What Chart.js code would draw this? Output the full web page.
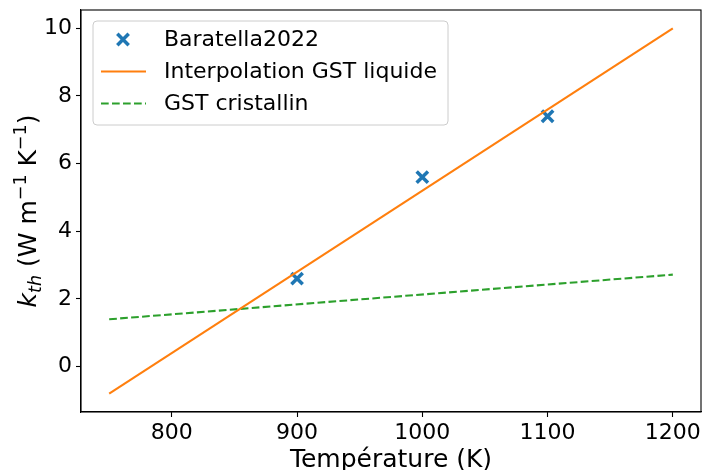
<!DOCTYPE html>
<html><head><meta charset="utf-8">
<script src="https://cdn.jsdelivr.net/npm/chart.js@4"></script>
<style>html,body{margin:0;padding:0;background:#fff}#wrap{width:702px;height:470px}</style>
</head><body><div id="wrap"><canvas id="c" width="702" height="470"></canvas></div>
<script>
const measuredT = [900, 1000, 1100];
const measuredK = [2.6, 5.6, 7.4];
const liquidT = [750, 1200];
const liquidK = [-0.8, 10.0];
const crystalT = [750, 1200];
const crystalK = [1.4, 2.72];
const xTicks = [800, 900, 1000, 1100, 1200];
const yTicks = [0, 2, 4, 6, 8, 10];
const seriesLabels = ['Baratella2022', 'Interpolation GST liquide', 'GST cristallin'];
const xTitle = 'Température (K)';

const FONT = 'DejaVu Sans';
const colors = ['#1f77b4', '#ff7f0e', '#2ca02c'];
const dash = [7.7, 3.3];

const toXY = (xs, ys) => xs.map((x, i) => ({x: x, y: ys[i]}));

const framePlugin = {
  id: 'frame',
  afterDraw(chart) {
    const ctx = chart.ctx, a = chart.chartArea;
    ctx.save();
    ctx.strokeStyle = '#000'; ctx.lineWidth = 1.1;
    ctx.strokeRect(a.left, a.top, a.right - a.left, a.bottom - a.top);

    const bx = 93, by = 21, bw = 355, bh = 104, r = 4;
    ctx.beginPath();
    ctx.moveTo(bx + r, by);
    ctx.arcTo(bx + bw, by, bx + bw, by + bh, r);
    ctx.arcTo(bx + bw, by + bh, bx, by + bh, r);
    ctx.arcTo(bx, by + bh, bx, by, r);
    ctx.arcTo(bx, by, bx + bw, by, r);
    ctx.closePath();
    ctx.fillStyle = 'rgba(255,255,255,0.8)'; ctx.fill();
    ctx.strokeStyle = '#cccccc'; ctx.lineWidth = 1; ctx.stroke();
    const rows = [39.5, 71.5, 103.5];
    ctx.font = '22px "' + FONT + '"';
    ctx.textBaseline = 'middle'; ctx.textAlign = 'left'; ctx.fillStyle = '#000';
    seriesLabels.forEach((lab, i) => {
      const y = rows[i];
      if (i === 0) {
        ctx.strokeStyle = colors[0]; ctx.lineWidth = 3.5; ctx.setLineDash([]);
        ctx.beginPath();
        ctx.moveTo(123 - 5.7, y - 5.7); ctx.lineTo(123 + 5.7, y + 5.7);
        ctx.moveTo(123 - 5.7, y + 5.7); ctx.lineTo(123 + 5.7, y - 5.7);
        ctx.stroke();
      } else {
        ctx.strokeStyle = colors[i]; ctx.lineWidth = 2.1;
        ctx.setLineDash(i === 2 ? dash : []);
        ctx.beginPath(); ctx.moveTo(101, y); ctx.lineTo(146, y); ctx.stroke();
        ctx.setLineDash([]);
      }
      ctx.fillText(lab, 164, y + 1);
    });

    ctx.font = '25px "' + FONT + '"';
    ctx.textAlign = 'center'; ctx.textBaseline = 'alphabetic';
    ctx.fillText(xTitle, (a.left + a.right) / 2, 467);

    const big = 25, small = 17.5;
    const parts = [
      {t: 'k', f: 'italic ' + big + 'px "' + FONT + '"', dy: 0},
      {t: 'th', f: 'italic ' + small + 'px "' + FONT + '"', dy: 5},
      {t: ' (W m', f: big + 'px "' + FONT + '"', dy: 0},
      {t: '\u22121', f: small + 'px "' + FONT + '"', dy: -10},
      {t: ' K', f: big + 'px "' + FONT + '"', dy: 0},
      {t: '\u22121', f: small + 'px "' + FONT + '"', dy: -10},
      {t: ')', f: big + 'px "' + FONT + '"', dy: 0}
    ];
    let total = 0;
    parts.forEach(p => { ctx.font = p.f; p.w = ctx.measureText(p.t).width; total += p.w; });
    ctx.translate(36, (a.top + a.bottom) / 2);
    ctx.rotate(-Math.PI / 2);
    ctx.textAlign = 'left';
    let cx = -total / 2;
    parts.forEach(p => { ctx.font = p.f; ctx.fillText(p.t, cx, p.dy); cx += p.w; });
    ctx.restore();
  }
};

new Chart(document.getElementById('c'), {
  type: 'scatter',
  data: {
    datasets: [
      {label: seriesLabels[0], data: toXY(measuredT, measuredK), showLine: false,
       pointStyle: 'crossRot', pointRadius: 8, pointHoverRadius: 8, pointBorderWidth: 3.5,
       borderColor: colors[0], backgroundColor: colors[0], order: 3},
      {label: seriesLabels[1], data: toXY(liquidT, liquidK), showLine: true, pointRadius: 0,
       borderColor: colors[1], borderWidth: 2.1, order: 1},
      {label: seriesLabels[2], data: toXY(crystalT, crystalK), showLine: true, pointRadius: 0,
       borderColor: colors[2], borderWidth: 2.1, borderDash: dash, order: 2}
    ]
  },
  options: {
    responsive: false, animation: false, devicePixelRatio: 1,
    layout: {autoPadding: false, padding: {top: 10, right: 1, left: 0, bottom: 0}},
    plugins: {legend: {display: false}, tooltip: {enabled: false}},
    scales: {
      x: {
        type: 'linear', min: 727.5, max: 1222.5,
        afterBuildTicks: s => { s.ticks = xTicks.map(v => ({value: v})); },
        afterFit: s => { s.height = 58; s.paddingLeft = 0; s.paddingRight = 0; },
        grid: {drawOnChartArea: false, drawTicks: true, tickLength: 5, tickWidth: 1.1, tickColor: '#000'},
        border: {display: true, color: '#000', width: 1.1},
        ticks: {font: {family: FONT, size: 22}, color: '#000', padding: 3, maxRotation: 0,
                callback: v => String(v)}
      },
      y: {
        type: 'linear', min: -1.34, max: 10.54,
        afterBuildTicks: s => { s.ticks = yTicks.map(v => ({value: v})); },
        afterFit: s => { s.width = 81; s.paddingTop = 0; s.paddingBottom = 0; },
        grid: {drawOnChartArea: false, drawTicks: true, tickLength: 5, tickWidth: 1.1, tickColor: '#000'},
        border: {display: true, color: '#000', width: 1.1},
        ticks: {font: {family: FONT, size: 22}, color: '#000', padding: 4,
                callback: v => String(v)}
      }
    }
  },
  plugins: [framePlugin]
});
</script></body></html>
